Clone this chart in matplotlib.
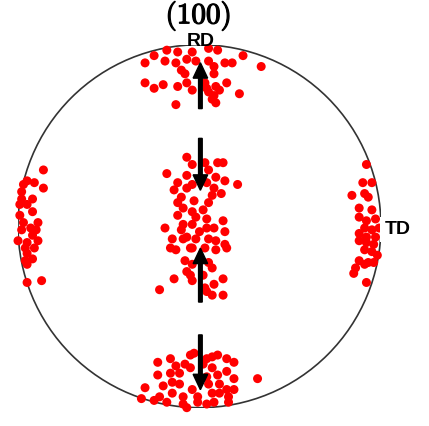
import matplotlib.pyplot as plt
import matplotlib.patheffects as pe
import numpy as np
from matplotlib.patches import Circle

plt.rcParams["mathtext.fontset"] = "cm"

# pole positions in the (100) projection, unit circle radius
top_x = [-0.25, -0.18, -0.12, 0.05, 0.10, 0.24, 0.34, -0.30, -0.19, -0.13, -0.07, -0.02,
         0.05, 0.08, 0.14, 0.18, -0.10, -0.08, 0.08, -0.30, -0.25, -0.20, -0.12, -0.07,
         -0.04, 0.03, 0.09, 0.15, 0.22, 0.05, 0.08, 0.07, 0.09, -0.13, 0.04, 0.11, -0.04]
top_y = [0.94, 0.97, 0.96, 0.98, 0.97, 0.94, 0.88, 0.90, 0.91, 0.90, 0.92, 0.91,
         0.91, 0.88, 0.90, 0.90, 0.86, 0.84, 0.84, 0.79, 0.76, 0.78, 0.77, 0.79,
         0.75, 0.79, 0.77, 0.79, 0.73, 0.74, 0.72, 0.70, 0.68, 0.67, 0.76, 0.75, 0.96]

mid_x = [-0.07, -0.04, 0.03, 0.10, 0.13, -0.18, -0.07, 0.05, 0.09, 0.14, 0.21, -0.12,
         -0.07, -0.14, -0.04, 0.08, 0.04, 0.12, -0.10, -0.03, 0.07, -0.12, -0.09, 0.05,
         0.02, -0.04, -0.12, -0.02, 0.04, 0.13, -0.09, -0.04, 0.04, -0.19, 0.00, -0.10,
         0.08, -0.07, -0.02, 0.05, 0.14, -0.15, -0.09, 0.09, -0.16, -0.13, -0.04, 0.03,
         0.09, 0.14, 0.15, -0.05, -0.08, 0.05, 0.07, -0.07, -0.05, -0.04, 0.02, -0.14,
         0.13, 0.08, -0.22, 0.03, 0.04, 0.07, 0.13, -0.04]
mid_y = [0.38, 0.34, 0.35, 0.35, 0.35, 0.29, 0.28, 0.31, 0.27, 0.25, 0.23, 0.24,
         0.21, 0.20, 0.23, 0.21, 0.24, 0.18, 0.16, 0.14, 0.17, 0.13, 0.10, 0.13,
         0.09, 0.08, 0.06, 0.05, 0.04, 0.03, 0.01, 0.01, -0.01, -0.01, -0.03, -0.02,
         -0.01, -0.06, -0.07, -0.07, -0.03, -0.07, -0.07, -0.08, -0.12, -0.13, -0.12, -0.12,
         -0.13, -0.10, -0.12, -0.12, -0.19, -0.20, -0.23, -0.25, -0.27, -0.30, -0.27, -0.29,
         -0.29, -0.32, -0.35, -0.34, -0.36, -0.38, -0.38, -0.21]

bot_x = [-0.05, -0.03, 0.04, 0.07, 0.10, 0.15, 0.19, -0.23, -0.16, -0.13, -0.08, -0.05,
         0.02, 0.07, 0.15, -0.23, -0.16, -0.11, 0.04, 0.10, 0.19, 0.32, -0.30, -0.20,
         -0.15, -0.11, -0.04, 0.05, 0.11, 0.15, 0.19, -0.22, -0.15, -0.09, -0.01, 0.07,
         0.11, 0.16, -0.32, -0.25, -0.18, -0.09, -0.01, 0.04, 0.16, 0.08, -0.07]
bot_y = [-0.71, -0.70, -0.73, -0.72, -0.71, -0.73, -0.75, -0.75, -0.73, -0.77, -0.76, -0.78,
         -0.76, -0.78, -0.80, -0.82, -0.81, -0.81, -0.83, -0.82, -0.84, -0.84, -0.89, -0.88,
         -0.86, -0.87, -0.90, -0.87, -0.87, -0.90, -0.90, -0.94, -0.92, -0.94, -0.94, -0.92,
         -0.92, -0.94, -0.95, -0.96, -0.97, -0.98, -0.97, -0.98, -0.97, -0.97, -1.00]

left_x = [-0.86, -0.95, -0.91, -0.97, -0.86, -0.98, -0.98, -0.92, -0.99, -0.95, -0.92, -0.99,
          -0.89, -0.97, -0.93, -0.90, -0.98, -0.92, -0.89, -1.00, -0.95, -0.91, -0.96, -0.95,
          -0.92, -0.96, -0.95, -0.95, -0.87]
left_y = [0.31, 0.25, 0.24, 0.23, 0.21, 0.19, 0.15, 0.15, 0.12, 0.12, 0.08, 0.06,
          0.02, 0.02, -0.01, -0.02, -0.02, -0.05, -0.08, -0.08, -0.09, -0.12, -0.12, -0.15,
          -0.18, -0.19, -0.21, -0.31, -0.30]

right_x = [0.92, 0.90, 0.95, 0.84, 0.91, 0.93, 0.88, 0.95, 0.88, 0.92, 0.97, 0.91,
           0.95, 0.99, 0.88, 0.92, 0.97, 0.88, 0.92, 0.96, 0.91, 0.95, 0.98, 0.88,
           0.93, 0.96, 0.86, 0.91, 0.85, 0.92]
right_y = [0.34, 0.24, 0.24, 0.17, 0.18, 0.16, 0.10, 0.09, 0.05, 0.03, 0.04, -0.01,
           -0.02, -0.01, -0.04, -0.06, -0.06, -0.08, -0.09, -0.10, -0.13, -0.14, -0.16, -0.19,
           -0.20, -0.20, -0.23, -0.21, -0.26, -0.31]

# arrows: tail y, head y (all along x = 0)
arrow_tail = [0.648, 0.484, -0.418, -0.599]
arrow_head = [0.901, 0.198, -0.121, -0.901]

fig = plt.figure(figsize=(4.29, 4.26), dpi=100)
ax = fig.add_axes([0.042, 0.042, 0.846, 0.854])
ax.set_xlim(-1, 1)
ax.set_ylim(-1, 1)
ax.set_aspect("equal")
ax.axis("off")

ax.add_patch(Circle((0, 0), 1.0, fill=False, edgecolor="#333333", linewidth=1.2, zorder=1))

xs = np.concatenate([top_x, mid_x, bot_x, left_x, right_x])
ys = np.concatenate([top_y, mid_y, bot_y, left_y, right_y])
ax.scatter(xs, ys, s=42, color="red", edgecolors="none", zorder=2, clip_on=False)

for tail, head in zip(arrow_tail, arrow_head):
    ax.arrow(0.005, tail, 0, head - tail, width=0.02, head_width=0.08, head_length=0.085,
             length_includes_head=True, color="black", zorder=3)

label_font = dict(fontsize=14, fontweight="bold", family="Liberation Sans", zorder=4)
ax.text(0.005, 1.02, "RD", ha="center", va="center", **label_font)
ax.text(1.02, -0.02, "TD", ha="left", va="center", clip_on=False,
        bbox=dict(facecolor="white", edgecolor="none", pad=3), **label_font)
fig.text(0.462, 0.963, r"$\mathbf{(100)}$", ha="center", va="center", fontsize=21,
         path_effects=[pe.withStroke(linewidth=0.9, foreground="black")])

fig.savefig("out.png", dpi=100)
